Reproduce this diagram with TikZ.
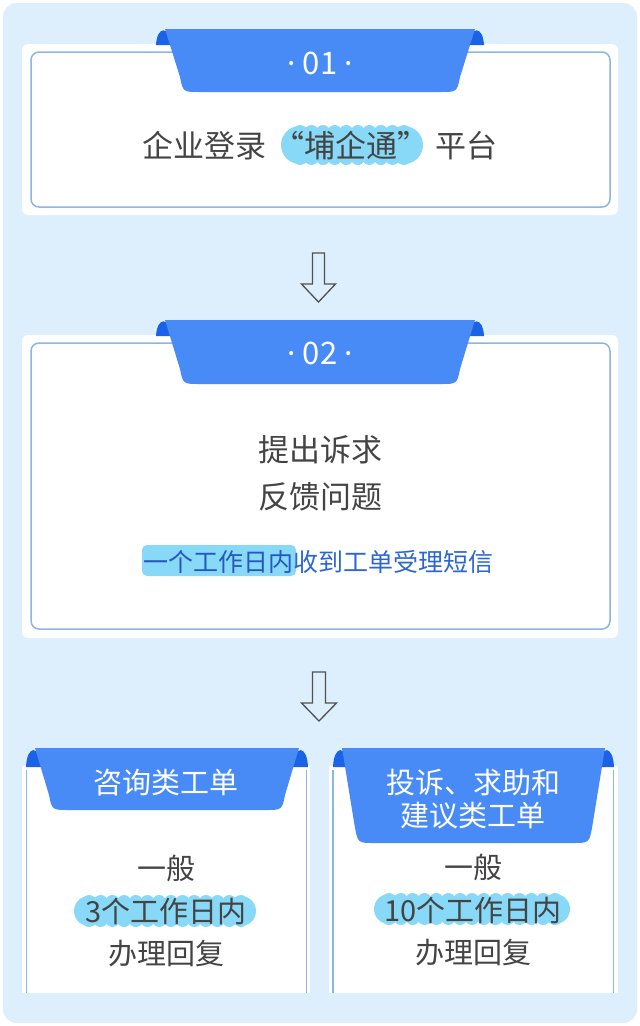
\documentclass[tikz,border=0pt]{standalone}
\usepackage{fontspec}
\newfontfamily\cjk{Noto Sans CJK SC}
\newfontfamily\latinsans{Noto Sans}
\definecolor{bgblue}{HTML}{DDEEFD}
\definecolor{ribblue}{HTML}{488BF6}
\definecolor{curlblue}{HTML}{1A62E6}
\definecolor{borderblue}{HTML}{8DB5E6}
\definecolor{txtgray}{HTML}{444444}
\definecolor{txtblue}{HTML}{2B67D2}
\definecolor{txtdeep}{HTML}{2459C0}
\definecolor{hlcyan}{HTML}{88D8F7}
\definecolor{arrowgray}{HTML}{505050}
\newcommand\mdot{{\latinsans ·}}
\newcommand\ribbon[6]{% xl xr ytop ybot ycurl inset
  \fill[curlblue] (#1,#5) .. controls (#1+1,#3-3) and (#1+13,#3-4) .. (#1+16,#5) -- cycle;
  \fill[curlblue] (#2,#5) .. controls (#2-1,#3-3) and (#2-13,#3-4) .. (#2-16,#5) -- cycle;
  \fill[ribblue] (#1+9,#3) -- (#2-9,#3) -- (#2-#6+4,#4-15) .. controls (#2-#6+1,#4) .. (#2-#6-16,#4)
     -- (#1+#6+16,#4) .. controls (#1+#6-1,#4) .. (#1+#6-4,#4-15) -- cycle;
}
\newcommand\hlcloud[4]{% x1 y1 x2 y2
  \pgfmathsetmacro\hlh{#4-#2}%
  \pgfmathsetmacro\hlr{\hlh/2}%
  \pgfmathsetmacro\hln{int(round((#3-#1-\hlh)/12))}%
  \pgfmathsetmacro\hls{(#3-#1-\hlh)/\hln}%
  \fill[hlcyan] (#1+\hlr,#2+4) rectangle (#3-\hlr,#4-4);
  \fill[hlcyan] (#1+\hlr,#2+\hlr) circle[radius=\hlr-1] (#3-\hlr,#2+\hlr) circle[radius=\hlr-1];
  \foreach \k in {0,...,\hln}{\fill[hlcyan] (#1+\hlr+\k*\hls,#2+7) circle[radius=7] (#1+\hlr+\k*\hls,#4-7) circle[radius=7];}
}
\begin{document}
\begin{tikzpicture}[x=1pt,y=-1pt,
  tbig/.style={font=\cjk\fontsize{31}{40}\selectfont, text=txtgray, inner sep=0pt, anchor=base},
  tmid/.style={font=\cjk\fontsize{29}{36}\selectfont, text=txtgray, inner sep=0pt, anchor=base},
  tsmall/.style={font=\cjk\fontsize{25}{30}\selectfont, text=txtblue, inner sep=0pt, anchor=base},
  tnum/.style={font=\cjk\fontsize{31}{36}\selectfont, text=white, inner sep=0pt, anchor=base},
  tlab/.style={font=\cjk\fontsize{29}{36}\selectfont, text=white, inner sep=0pt, anchor=base},
  border/.style={draw=borderblue, line width=1.5pt},
  arrowline/.style={draw=arrowgray, line width=1.3pt, line join=miter}]
\useasboundingbox (0,0) rectangle (640,1026);
\fill[white] (0,0) rectangle (640,1026);
\fill[bgblue, rounded corners=14pt] (3,3) rectangle (637,1023);
% box 1
\fill[white, rounded corners=6pt] (22,44) rectangle (618,215);
\draw[border, rounded corners=8pt] (31,52) rectangle (610,207);
\coordinate (b1s) at (320,215);
\ribbon{156}{484}{29}{92}{45}{28}
\node[tnum] (n1) at (320,74.5) {\mdot\hspace{7pt}01\hspace{7pt}\mdot};
\hlcloud{280}{125}{424}{165}
\node[tbig] (t1) at (320,157) {企业登录 “埔企通” 平台};
% arrow 1
\coordinate (a1) at (318.5,253);
\draw[arrowline, shift={(a1)}] (-6,0) -- (6,0) -- (6,31) -- (17,31) -- (0,49) -- (-17,31) -- (-6,31) -- cycle;
% box 2
\fill[white, rounded corners=6pt] (22,335) rectangle (618,638);
\draw[border, rounded corners=8pt] (31,343) rectangle (610,629);
\coordinate (b2n) at (320,335);
\ribbon{156}{484}{320}{384}{336}{28}
\node[tnum] (n2) at (320,364.5) {\mdot\hspace{7pt}02\hspace{7pt}\mdot};
\node[tbig] (t2a) at (320,461.5) {提出诉求};
\node[tbig] (t2b) at (320,508.5) {反馈问题};
\fill[hlcyan, rounded corners=5pt] (142,545) rectangle (296,576);
\node[tsmall] (t2c) at (318.5,571) {\textcolor{txtdeep}{一个工作日内}收到工单受理短信};
% arrow 2
\coordinate (a2) at (319,672);
\draw[arrowline, shift={(a2)}] (-6.5,0) -- (6.5,0) -- (6.5,31) -- (17.5,31) -- (0,49) -- (-17.5,31) -- (-6.5,31) -- cycle;
% bottom left box
\fill[white] (22,766) rectangle (310,993);
\draw[draw=borderblue, line width=1.2pt] (26.5,770) -- (26.5,993) (306.5,770) -- (306.5,993);
\ribbon{26}{308}{748}{810}{767}{27}
\node[tlab] (l1) at (166,793) {咨询类工单};
\node[tmid] (l2) at (166,879) {一般};
\hlcloud{73}{895}{257}{927}
\node[tmid] (l3) at (166,922) {3个工作日内};
\node[tmid] (l4) at (166,964) {办理回复};
% bottom right box
\fill[white] (329,766) rectangle (618,993);
\draw[draw=borderblue, line width=1.2pt] (333,770) -- (333,993) (613.5,770) -- (613.5,993);
\ribbon{333}{614}{748}{843}{767}{26}
\node[tlab] (r1) at (473,793) {投诉、求助和};
\node[tlab] (r2) at (473,826) {建议类工单};
\node[tmid] (r3) at (473,878) {一般};
\hlcloud{373}{893}{571}{925}
\node[tmid] (r4) at (473,921) {10个工作日内};
\node[tmid] (r5) at (473,963) {办理回复};
\end{tikzpicture}
\end{document}
